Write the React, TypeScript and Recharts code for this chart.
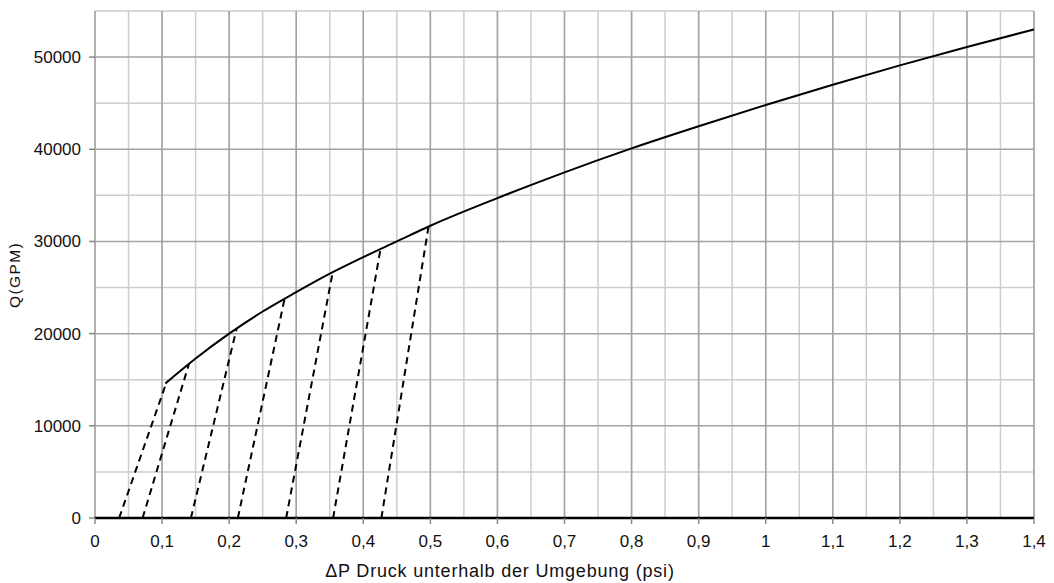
import { LineChart, Line, XAxis, YAxis, CartesianGrid, Label } from "recharts";

// curve Q(GPM) over ΔP (psi)
const curveDp = [0.105, 0.15, 0.2, 0.25, 0.3, 0.35, 0.4, 0.45, 0.5, 0.6, 0.7, 0.8, 0.9, 1.0, 1.1, 1.2, 1.3, 1.4];
const curveQ = [14600, 17300, 20000, 22400, 24500, 26500, 28300, 30000, 31700, 34700, 37500, 40100, 42500, 44800, 47000, 49100, 51100, 53000];

// dashed helper lines: start on the x axis, end on the curve
const dashStartDp = [0.036, 0.071, 0.143, 0.213, 0.285, 0.355, 0.427];
const dashEndDp = [0.106, 0.14, 0.211, 0.283, 0.354, 0.426, 0.497];
const dashEndQ = [14600, 16700, 20500, 23900, 26500, 29300, 31500];

const xTicks = [0, 0.1, 0.2, 0.3, 0.4, 0.5, 0.6, 0.7, 0.8, 0.9, 1, 1.1, 1.2, 1.3, 1.4];
const xMinor = [0, 0.05, 0.1, 0.15, 0.2, 0.25, 0.3, 0.35, 0.4, 0.45, 0.5, 0.55, 0.6, 0.65, 0.7, 0.75, 0.8, 0.85, 0.9, 0.95, 1, 1.05, 1.1, 1.15, 1.2, 1.25, 1.3, 1.35, 1.4];
const yTicks = [0, 10000, 20000, 30000, 40000, 50000];
const yMinor = [5000, 15000, 25000, 35000, 45000, 55000];

const curve = curveDp.map((dp, i) => ({ x: dp, q: curveQ[i] }));
const dashes = dashStartDp.map((dp, i) => [
  { x: dp, q: 0 },
  { x: dashEndDp[i], q: dashEndQ[i] },
]);

const FONT = "'Liberation Sans', Arial, Helvetica, sans-serif";
const tickStyle = { fontSize: 17, fill: "#111", fontFamily: FONT };

export default function App() {
  return (
    <div style={{ position: "absolute", left: 0, top: 0, background: "#fff" }}>
      <LineChart width={1054} height={583} margin={{ top: 11, right: 20, left: 0, bottom: 0 }}>
        <CartesianGrid verticalValues={xMinor} horizontalValues={yMinor} stroke="#cdcdcd" strokeWidth={1.5} />
        <CartesianGrid verticalValues={xTicks} horizontalValues={yTicks} stroke="#a3a3a3" strokeWidth={1.5} />
        <XAxis
          dataKey="x"
          type="number"
          domain={[0, 1.4]}
          ticks={xTicks}
          interval={0}
          allowDuplicatedCategory={false}
          tickFormatter={(v) => String(v).replace(".", ",")}
          axisLine={{ stroke: "#000", strokeWidth: 2.5 }}
          tickLine={{ stroke: "#888", strokeWidth: 1.5 }}
          tickSize={6}
          tickMargin={11}
          tick={tickStyle}
          height={65}
        >
          <Label
            content={() => (
              <text x={500} y={577} textAnchor="middle" fontSize={18} letterSpacing={0.8} fill="#111" fontFamily={FONT}>
                ΔP Druck unterhalb der Umgebung (psi)
              </text>
            )}
          />
        </XAxis>
        <YAxis
          type="number"
          domain={[0, 55000]}
          ticks={yTicks}
          interval={0}
          axisLine={false}
          tickLine={{ stroke: "#888", strokeWidth: 1.5 }}
          tickSize={6}
          tickMargin={8}
          tick={tickStyle}
          width={95}
        >
          <Label
            content={() => (
              <text
                x={20}
                y={275}
                transform="rotate(-90 20 275)"
                textAnchor="middle"
                fontSize={15.5}
                letterSpacing={1.4}
                fill="#111"
                fontFamily={FONT}
              >
                Q(GPM)
              </text>
            )}
          />
        </YAxis>
        {dashes.map((d, i) => (
          <Line
            key={i}
            data={d}
            dataKey="q"
            stroke="#000"
            strokeWidth={2}
            strokeDasharray="7 5"
            dot={false}
            activeDot={false}
            isAnimationActive={false}
          />
        ))}
        <Line
          data={curve}
          dataKey="q"
          type="monotone"
          stroke="#000"
          strokeWidth={2}
          dot={false}
          activeDot={false}
          isAnimationActive={false}
        />
      </LineChart>
    </div>
  );
}
